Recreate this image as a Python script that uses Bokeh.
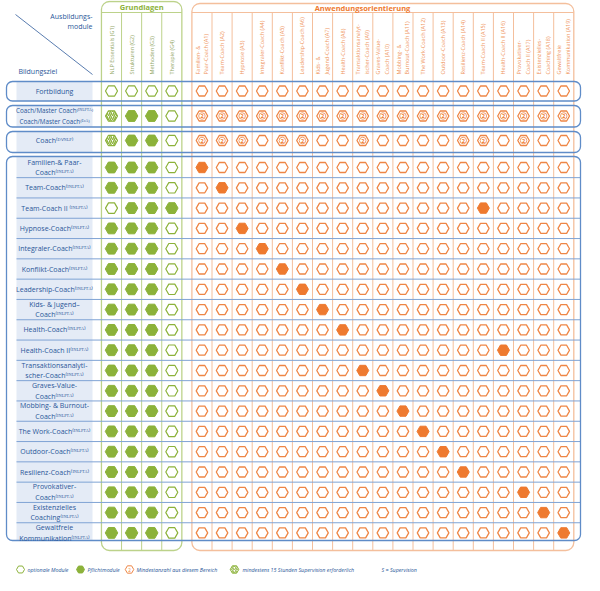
import math
from bokeh.plotting import figure
from bokeh.models import Range1d
from bokeh.core.properties import value
from bokeh.embed import file_html
from bokeh.resources import INLINE

# ---------------- data ----------------
G_COLS = ["NLP Essentials (G1)", "Strukturen (G2)", "Methoden (G3)", "Therapie (G4)"]
A_COLS = ["Familien- &\nPaar-Coach (A1)", "Team-Coach (A2)", "Hypnose (A3)",
          "Integraler-Coach (A4)", "Konflikt-Coach (A5)", "Leadership-Coach (A6)",
          "Kids- &\nJugend-Coach (A7)", "Health-Coach (A8)",
          "Transaktionsanalyt-\nischer-Coach (A9)", "Graves-Value-\nCoach (A10)",
          "Mobbing- &\nBurnout-Coach (A11)", "The Work-Coach (A12)",
          "Outdoor-Coach (A13)", "Resilienz-Coach (A14)", "Team-Coach II (A15)",
          "Health-Coach II (A16)", "Provokativer-\nCoach II (A17)",
          "Existenzielles-\nCoaching (A18)", "Gewaltfreie\nKommunikation (A19)"]
SUP = "⁽ᴵᴺᴸᴾᵀᴬ⁾"
TOP_ROWS = ["Fortbildung",
            "Coach/Master Coach" + SUP + "\nCoach/Master Coach⁽ᴱᶜᴬ⁾",
            "Coach⁽ᴰⱽᴺᴸᴾ⁾"]
# o = optional, p = Pflicht, s = Supervision (hatched), m = Mindestanzahl ("2")
TOP_G = ["oooo", "sppo", "sppo"]
TOP_A = ["ooooooooooooooooooo", "mmmmmmmmmmmmmmmmmmm", "mmmommoomoooommomoo"]
GOAL_ROWS = ["Familien-& Paar-\nCoach" + SUP, "Team-Coach" + SUP, "Team-Coach II " + SUP,
             "Hypnose-Coach" + SUP, "Integraler-Coach" + SUP, "Konflikt-Coach" + SUP,
             "Leadership-Coach" + SUP, "Kids- & Jugend–\nCoach" + SUP, "Health-Coach" + SUP,
             "Health-Coach II" + SUP, "Transaktionsanalyti-\nscher-Coach" + SUP,
             "Graves-Value-\nCoach" + SUP, "Mobbing- & Burnout-\nCoach" + SUP,
             "The Work-Coach" + SUP, "Outdoor-Coach" + SUP, "Resilienz-Coach" + SUP,
             "Provokativer-\nCoach" + SUP, "Existenzielles\nCoaching" + SUP,
             "Gewaltfreie\nKommunikation" + SUP]
GOAL_G = ["pppo", "pppo", "oppp", "pppo", "pppo", "pppo", "pppo", "pppo", "pppo", "pppo",
          "pppo", "pppo", "pppo", "pppo", "pppo", "pppo", "pppo", "pppo", "pppo"]
GOAL_A_REQUIRED = ["A1", "A2", "A15", "A3", "A4", "A5", "A6", "A7", "A8", "A16",
                   "A9", "A10", "A11", "A12", "A13", "A14", "A17", "A18", "A19"]
LEGEND = ["optionale Module", "Pflichtmodule", "Mindestanzahl aus diesem Bereich",
          "mindestens 15 Stunden Supervision erforderlich", "S = Supervision"]

# ---------------- layout ----------------
X0, SX = 119.0, 20.1     # page px of slot 0, px per column slot
Y0, SY = 175.0, 20.3     # page px of goal row 0, px per row slot
def X(px): return (px - X0) / SX
def Y(py): return (py - Y0) / SY

A_OFF = 4.5
TOP_Y = [Y(98.5), Y(123.5), Y(148.0)]

GREEN = "#8cb23a"; GREEN_L = "#bcd28a"; GREEN_T = "#93a866"
ORANGE = "#ee7a30"; ORANGE_O = "#ee8646"; ORANGE_L = "#f4bf9c"; ORANGE_T = "#ef9660"
BLUE = "#5f8cc8"; BLUE_L = "#7fa3d4"; BLUE_T = "#2a5799"; CELL = "#e4ebf6"
FONT = value("Open Sans")

p = figure(width=584, height=575, x_range=Range1d(X(8), X(592)),
           y_range=Range1d(Y(583), Y(8)), x_axis_type=None, y_axis_type=None,
           output_backend="svg", toolbar_location=None, min_border=0)
p.outline_line_color = None
p.background_fill_color = "white"

nG, nA = len(G_COLS), len(A_COLS)
gtop, otop, bot, hdr = Y(9), Y(11), Y(558), Y(20)

# group boxes
p.quad(left=[-0.5], right=[nG - 0.5], top=[gtop], bottom=[bot], fill_color=None,
       line_color=GREEN_L, line_width=1.3, border_radius=8)
p.quad(left=[A_OFF - 0.5], right=[A_OFF + nA - 0.5], top=[otop], bottom=[bot], fill_color=None,
       line_color=ORANGE_L, line_width=1.3, border_radius=8)
p.segment(x0=[-0.5, A_OFF - 0.5], x1=[nG - 0.5, A_OFF + nA - 0.5], y0=[hdr, hdr], y1=[hdr, hdr],
          line_color=[GREEN_L, ORANGE_L], line_width=1)
# column separators
gsep = [i + 0.5 for i in range(nG - 1)]
asep = [A_OFF + i + 0.5 for i in range(nA - 1)]
p.segment(x0=gsep, x1=gsep, y0=[hdr] * len(gsep), y1=[bot] * len(gsep), line_color=GREEN_L, line_width=1)
p.segment(x0=asep, x1=asep, y0=[hdr] * len(asep), y1=[bot] * len(asep), line_color=ORANGE_L, line_width=1)

# header texts
p.text(x=[(nG - 1) / 2], y=[Y(14.5)], text=["Grundlagen"], text_color=GREEN, text_font=FONT,
       text_font_size="7.5px", text_font_style="bold", text_align="center", text_baseline="middle")
p.text(x=[X(370)], y=[Y(15.5)], text=["Anwendungsorientierung"], text_color=ORANGE, text_font=FONT,
       text_font_size="7.5px", text_font_style="bold", text_align="center", text_baseline="middle")
p.text(x=list(range(nG)), y=[Y(82)] * nG, text=G_COLS, angle=math.pi / 2, text_color=GREEN_T,
       text_font=FONT, text_font_size="5.5px", text_align="left", text_baseline="middle",
       text_line_height=1.1)
p.text(x=[A_OFF + i for i in range(nA)], y=[Y(82)] * nA, text=A_COLS, angle=math.pi / 2,
       text_color=ORANGE_T, text_font=FONT, text_font_size="5.5px", text_align="left",
       text_baseline="middle", text_line_height=1.1)

# corner header
p.segment(x0=[X(23)], y0=[Y(22)], x1=[X(100)], y1=[Y(82)], line_color="#5a7db0", line_width=1)
p.text(x=[X(100)], y=[Y(29)], text=["Ausbildungs-\nmodule"], text_color=BLUE_T, text_font=FONT,
       text_font_size="7px", text_align="right", text_baseline="middle", text_line_height=1.15)
p.text(x=[X(26)], y=[Y(79)], text=["Bildungsziel"], text_color=BLUE_T, text_font=FONT,
       text_font_size="7px", text_align="left", text_baseline="middle")

# row boxes
bl, br = X(14), X(588)
cl, cr = X(24), X(100)
box_tb = [(Y(89), Y(108.5)), (Y(113), Y(134.5)), (Y(139), Y(160)), (Y(164), Y(548))]
p.quad(left=[cl] * 4, right=[cr] * 4, top=[t for t, b in box_tb], bottom=[b for t, b in box_tb],
       fill_color=CELL, line_color=None)
rsep = [i + 0.5 for i in range(len(GOAL_ROWS) - 1)]
p.segment(x0=[cl] * len(rsep), x1=[br] * len(rsep), y0=rsep, y1=rsep, line_color=BLUE_L, line_width=1)
p.quad(left=[bl] * 4, right=[br] * 4, top=[t for t, b in box_tb], bottom=[b for t, b in box_tb],
       fill_color=None, line_color=BLUE, line_width=1.3, border_radius=6)

# row labels
lx = X(62)
p.text(x=[lx, lx], y=[TOP_Y[0], TOP_Y[2]], text=[TOP_ROWS[0], TOP_ROWS[2]], text_color=BLUE_T,
       text_font=FONT, text_font_size="7px", text_align="center", text_baseline="middle")
p.text(x=[lx], y=[TOP_Y[1]], text=[TOP_ROWS[1]], text_color=BLUE_T, text_font=FONT,
       text_font_size="6.3px", text_align="center", text_baseline="middle", text_line_height=1.2)
p.text(x=[lx] * len(GOAL_ROWS), y=list(range(len(GOAL_ROWS))), text=GOAL_ROWS, text_color=BLUE_T,
       text_font=FONT, text_font_size="7px", text_align="center", text_baseline="middle",
       text_line_height=1.2)

# ---------------- cells ----------------
cells = {"go": ([], []), "gp": ([], []), "gs": ([], []), "ao": ([], []), "ap": ([], []), "am": ([], [])}
def add(kind, x, y):
    cells[kind][0].append(x); cells[kind][1].append(y)

for r, y in enumerate(TOP_Y):
    for c, ch in enumerate(TOP_G[r]):
        add("g" + ch, c, y)
    for c, ch in enumerate(TOP_A[r]):
        add("a" + ch, A_OFF + c, y)
for r in range(len(GOAL_ROWS)):
    for c, ch in enumerate(GOAL_G[r]):
        add("g" + ch, c, r)
    req = int(GOAL_A_REQUIRED[r][1:]) - 1
    for c in range(nA):
        add("ap" if c == req else "ao", A_OFF + c, r)

def hexes(kind, size, **kw):
    xs, ys = cells[kind]
    p.scatter(x=xs, y=ys, marker="hex", size=size, **kw)

hexes("go", 12, fill_color="white", line_color=GREEN, line_width=1.2)
hexes("gp", 12.5, fill_color=GREEN, line_color=GREEN, line_width=1)
hexes("gs", 12, fill_color="white", line_color=GREEN, line_width=1.2,
      hatch_pattern="right_diagonal_line", hatch_color=GREEN, hatch_scale=4, hatch_weight=1.4)
hexes("ao", 11.5, fill_color="white", line_color=ORANGE_O, line_width=1.3)
hexes("ap", 12, fill_color=ORANGE, line_color=ORANGE, line_width=1)
hexes("am", 11.5, fill_color="white", line_color=ORANGE_O, line_width=1.3)
mx, my = cells["am"]
p.scatter(x=mx, y=my, marker="circle", size=6.5, fill_color=None, line_color=ORANGE_O, line_width=0.8)
p.text(x=mx, y=my, text=["2"] * len(mx), text_color=ORANGE, text_font=FONT, text_font_size="5.5px",
       text_font_style="bold", text_align="center", text_baseline="middle")

# ---------------- legend ----------------
ly = Y(577)
p.scatter(x=[X(28)], y=[ly], marker="hex", size=8, fill_color="white", line_color=GREEN, line_width=1)
p.scatter(x=[X(88)], y=[ly], marker="hex", size=8, fill_color=GREEN, line_color=GREEN)
p.scatter(x=[X(137)], y=[ly], marker="hex", size=8.5, fill_color="white", line_color=ORANGE_O, line_width=1)
p.text(x=[X(137)], y=[ly], text=["2"], text_color=ORANGE, text_font=FONT, text_font_size="4.5px",
       text_align="center", text_baseline="middle")
p.scatter(x=[X(242)], y=[ly], marker="hex", size=8.5, fill_color="white", line_color=GREEN, line_width=1,
          hatch_pattern="right_diagonal_line", hatch_color=GREEN, hatch_scale=3, hatch_weight=1)
p.text(x=[X(35), X(95), X(144), X(250), X(389)], y=[ly] * 5, text=LEGEND, text_color=BLUE_T,
       text_font=FONT, text_font_size="5.3px", text_font_style="italic", text_align="left",
       text_baseline="middle")

open("out.html", "w").write(file_html(p, INLINE))
